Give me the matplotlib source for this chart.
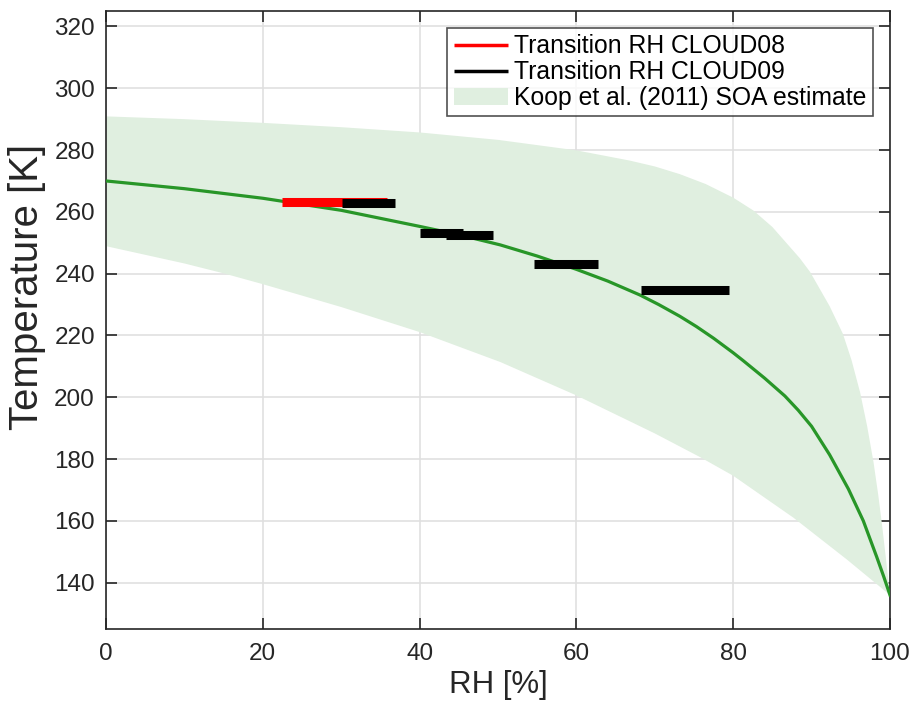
import numpy as np
import matplotlib.pyplot as plt

plt.rcParams['font.family'] = ['Liberation Sans', 'DejaVu Sans']

# Koop et al. (2011) glass transition curve
rh_curve = [0, 10, 20, 30, 40, 45, 50.3, 55, 60, 64, 68.1, 70.5, 73.2, 75.3, 77.5,
            80, 81.3, 84, 86.6, 88.3, 90.0, 92.3, 94.7, 96.6, 98.3, 99.2, 100]
t_curve = [270.0, 267.5, 264.4, 260.5, 255.3, 252.6, 249.3, 245.7, 241.4, 237.6,
           233.1, 230.0, 226.2, 222.9, 219.1, 214.4, 211.8, 206.2, 200.4, 195.8,
           190.6, 181.4, 170.3, 160.0, 148.4, 142.0, 136.0]

# SOA estimate band, upper and lower edges
rh_up = [0, 10, 20, 30, 40, 50, 60, 66.8, 70, 73.2, 76.5, 80, 82.6, 85, 88.5,
         89.8, 92.3, 94.0, 95.1, 96.2, 97.1, 97.9, 98.5, 99.0, 99.5, 100]
t_up = [290.9, 290.0, 288.8, 287.4, 285.7, 283.3, 279.9, 276.6, 274.7, 272.2,
        269.0, 264.6, 260.4, 255.1, 245.0, 240.6, 229.5, 220.5, 212.0, 201.5,
        190.5, 179.0, 168.5, 158.5, 147.5, 136.0]
rh_low = [0, 10, 15, 20, 30, 40, 50.3, 60, 70, 75.8, 80, 87.7, 94.5, 100]
t_low = [248.9, 243.3, 240.1, 236.6, 229.2, 221.1, 211.4, 200.6, 188.3, 180.6,
         174.6, 161.0, 147.5, 136.0]

# transition RH ranges
c08_rh = [[22.5, 35.9]]
c08_t = [263.1]
c09_rh = [[30.1, 36.9], [40.1, 45.5], [43.4, 49.4], [54.6, 62.8], [68.2, 79.5]]
c09_t = [263.0, 253.2, 252.5, 243.0, 234.8]

fig = plt.figure(figsize=(9.14, 7.01), dpi=100)
ax = fig.add_axes([0.116, 0.1027, 0.8577, 0.8816])

# polygon of band
poly_x = list(rh_up) + list(rh_low[::-1])
poly_y = list(t_up) + list(t_low[::-1])
ax.fill(poly_x, poly_y, facecolor='#e0efe0', edgecolor='none', zorder=1,
        label='Koop et al. (2011) SOA estimate')

ax.plot(rh_curve, t_curve, color='#289628', lw=2.3, zorder=3)

for i, (r, t) in enumerate(zip(c08_rh, c08_t)):
    ax.plot(r, [t, t], color='red', lw=6.5, solid_capstyle='butt', zorder=4,
            label='Transition RH CLOUD08' if i == 0 else None)
for i, (r, t) in enumerate(zip(c09_rh, c09_t)):
    ax.plot(r, [t, t], color='black', lw=6.5, solid_capstyle='butt', zorder=5,
            label='Transition RH CLOUD09' if i == 0 else None)

ax.set_xlim(0, 100)
ax.set_ylim(125, 325)
ax.set_xticks(np.arange(0, 101, 20))
ax.set_yticks(np.arange(140, 321, 20))
ax.grid(True, color='#e0e0e0', lw=1.2)
ax.set_axisbelow(True)
ax.tick_params(direction='in', length=8, width=1.2, labelsize=17.5,
               colors='#262626', top=True, right=True)
ax.tick_params(axis='x', pad=10)
ax.tick_params(axis='y', pad=8)
for s in ax.spines.values():
    s.set_color('#262626')
    s.set_linewidth(1.2)

ax.set_xlabel('RH [%]', fontsize=22.5, color='#262626', labelpad=4)
ax.set_ylabel('Temperature [K]', fontsize=29, color='#262626', labelpad=6, y=0.553)

h, l = ax.get_legend_handles_labels()
order = [1, 2, 0]
leg = ax.legend([h[i] for i in order], [l[i] for i in order], loc='upper right',
                bbox_to_anchor=(0.978, 0.9725), fontsize=17.8, frameon=True,
                fancybox=False, edgecolor='#262626', borderpad=0.25,
                labelspacing=0.08, handlelength=2.2, handletextpad=0.25,
                borderaxespad=0)
leg.get_frame().set_linewidth(1.2)
for ln in leg.get_lines():
    ln.set_linewidth(2.5)

fig.savefig('out.png', dpi=100)
